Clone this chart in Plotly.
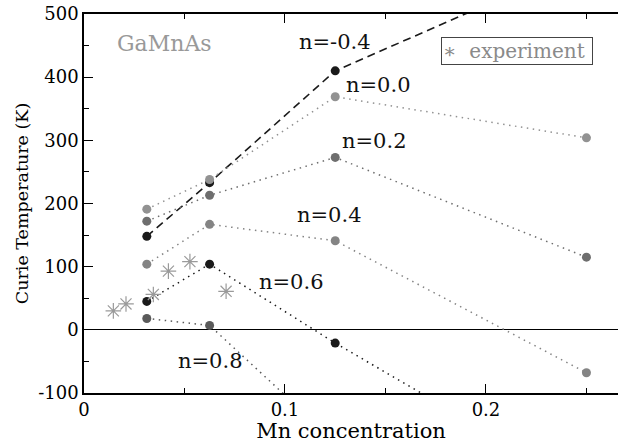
import plotly.graph_objects as go

# Mn concentration of the calculated supercells
mn_conc = [0.03125, 0.0625, 0.125, 0.25]

# Calculated Curie temperatures (K) for each hole-compensation value n
tc_n_m04 = [148, 233, 410, 584]
tc_n_00 = [191, 238, 369, 304]
tc_n_02 = [172, 213, 273, 115]
tc_n_04 = [104, 167, 141, -68]
tc_n_06 = [45, 104, -21, -252]
tc_n_08 = [18, 7, -177]

# Experimental Curie temperatures
exp_conc = [0.0146, 0.0209, 0.0345, 0.0420, 0.0527, 0.0707]
exp_tc = [30, 41, 56, 93, 108, 61]

# Axis ticks
x_ticks = [0, 0.1, 0.2]
x_ticklabels = ["0", "0.1", "0.2"]
y_ticks = [-100, 0, 100, 200, 300, 400, 500]
y_ticklabels = ["-100", "0", "100", "200", "300", "400", "500"]

FONT = "DejaVu Serif"
DOT = "1.5px,4.5px"
NBSP = "\u00a0"

series = [
    ("n=-0.4", mn_conc, tc_n_m04, "#1a1a1a", "8px,5px", 1.6),
    ("n=0.0", mn_conc, tc_n_00, "#929292", DOT, 1.5),
    ("n=0.2", mn_conc, tc_n_02, "#6e6e6e", DOT, 1.5),
    ("n=0.4", mn_conc, tc_n_04, "#848484", DOT, 1.5),
    ("n=0.6", mn_conc, tc_n_06, "#1a1a1a", DOT, 1.5),
    ("n=0.8", mn_conc[:3], tc_n_08, "#5a5a5a", DOT, 1.5),
]

fig = go.Figure()
for name, xs, ys, color, dash, lw in series:
    fig.add_trace(go.Scatter(
        x=xs, y=ys, mode="lines+markers", name=name,
        line=dict(color=color, dash=dash, width=lw),
        marker=dict(color=color, size=9),
        showlegend=False,
    ))

fig.add_trace(go.Scatter(
    x=exp_conc, y=exp_tc, mode="markers", name="experiment",
    marker=dict(symbol="asterisk-open", size=13, color="#9a9a9a",
                line=dict(color="#9a9a9a", width=1.2)),
    showlegend=False,
))

# Curve labels: (text, x, y)
labels = [
    ("n=-0.4", 0.1249, 455),
    ("n=0.0", 0.1463, 387),
    ("n=0.2", 0.1443, 299),
    ("n=0.4", 0.1221, 182),
    ("n=0.6", 0.1030, 75),
    ("n=0.8", 0.0627, -49),
]
for text, lx, ly in labels:
    fig.add_annotation(x=lx, y=ly, text=text, showarrow=False,
                       xanchor="center", yanchor="middle",
                       font=dict(family=FONT, size=21, color="#111"))

fig.add_annotation(x=0.0401, y=453, text="GaMnAs", showarrow=False,
                   xanchor="center", yanchor="middle",
                   font=dict(family=FONT, size=22, color="#999999"))

fig.add_annotation(x=0.2152, y=441,
                   text="∗" + NBSP * 2 + "experiment" + NBSP,
                   showarrow=False, xanchor="center", yanchor="middle",
                   bordercolor="#444", borderwidth=1, borderpad=1,
                   font=dict(family=FONT, size=20, color="#8a8a8a"))

axis_common = dict(
    showline=True, linecolor="black", linewidth=1.6,
    ticks="inside", ticklen=9, tickwidth=1.2, tickcolor="black",
    showgrid=False,
    tickfont=dict(family=FONT, size=18, color="black"),
)

fig.update_xaxes(
    range=[0, 0.2657], tickvals=x_ticks, ticktext=x_ticklabels,
    mirror="ticks", zeroline=False,
    minor=dict(tickvals=[0.05, 0.15, 0.25], ticklen=5, tickcolor="black",
               tickwidth=1.2, ticks="inside"),
    title=dict(text="Mn concentration", standoff=4,
               font=dict(family=FONT, size=21, color="black")),
    **axis_common,
)
fig.update_yaxes(
    range=[-100, 500], tickvals=y_ticks, ticktext=y_ticklabels,
    zeroline=True, zerolinecolor="black", zerolinewidth=1.2,
    minor=dict(tickvals=[-50, 50, 150, 250, 350, 450], ticklen=5,
               tickcolor="black", tickwidth=1.2, ticks="inside"),
    title=dict(text="Curie Temperature (K)", standoff=5,
               font=dict(family=FONT, size=17.5, color="black")),
    **axis_common,
)

fig.update_layout(
    width=618, height=443,
    margin=dict(l=84, r=0, t=14, b=50),
    plot_bgcolor="white", paper_bgcolor="white",
)

fig.write_html("out.html")
